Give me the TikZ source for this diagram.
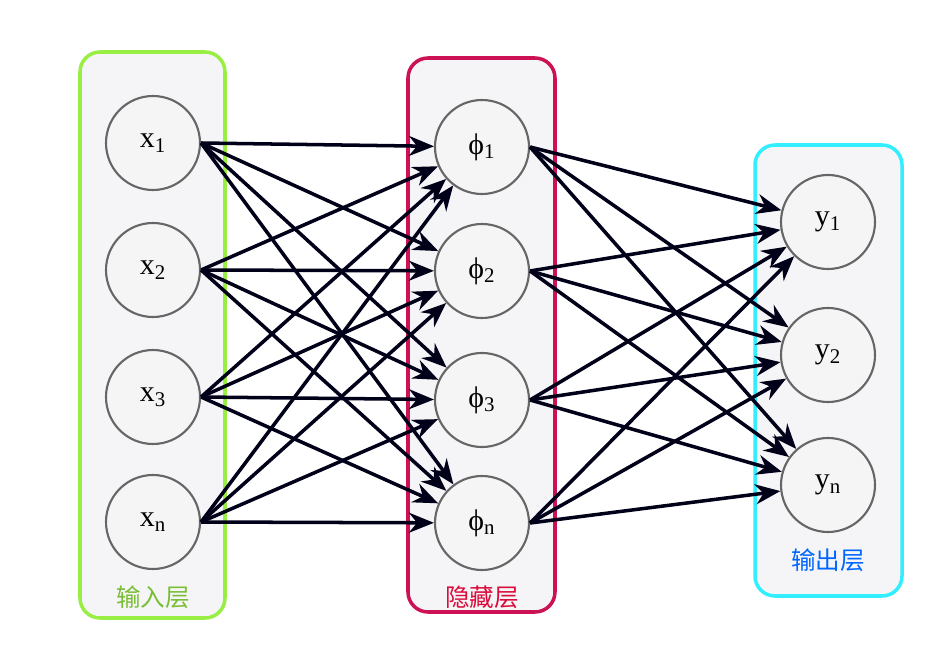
\documentclass[tikz,border=0pt]{standalone}
\usepackage{fontspec}
\setmainfont{Liberation Serif}
\newfontfamily\cjk{Noto Sans CJK SC}
\usepackage{xcolor}
\usetikzlibrary{arrows.meta,positioning}
\definecolor{boxfill}{HTML}{F5F5F7}
\definecolor{greenbd}{HTML}{99EE44}
\definecolor{redbd}{HTML}{CC1155}
\definecolor{cyanbd}{HTML}{33EEFF}
\begin{document}
\begin{tikzpicture}[
    unit/.style={circle, draw=gray!80!black, line width=1.2pt, fill=gray!8, minimum size=1.88cm, inner sep=0pt, font=\fontsize{17}{20}\selectfont},
    layerbox/.style={rectangle, rounded corners=0.4cm, line width=2pt, fill=boxfill},
    title/.style={font=\cjk\fontsize{14}{16}\selectfont},
    arrow/.style={-{Stealth[length=0.5cm,width=0.4cm]}, line width=2pt, black!90!blue},
]
    \useasboundingbox (0,0) rectangle (18.76,-13.08);
    % Layer boxes
    \draw[layerbox, draw=greenbd] (1.6,-1.04) rectangle (4.5,-12.36);
    \draw[layerbox, draw=redbd] (8.16,-1.16) rectangle (11.1,-12.24);
    \draw[layerbox, draw=cyanbd] (15.1,-2.9) rectangle (18.04,-11.92);

    % Input layer
    \node[unit] (x1) at (3.06,-2.86) {x$_{\mathrm{1}}$};
    \node[unit] (x2) at (3.06,-5.4) {x$_{\mathrm{2}}$};
    \node[unit] (x3) at (3.06,-7.94) {x$_{\mathrm{3}}$};
    \node[unit] (x4) at (3.06,-10.44) {x$_{\mathrm{n}}$};

    % Hidden layer
    \node[unit] (h1) at (9.64,-2.94) {ϕ$_{\mathrm{1}}$};
    \node[unit] (h2) at (9.64,-5.42) {ϕ$_{\mathrm{2}}$};
    \node[unit] (h3) at (9.64,-8.0) {ϕ$_{\mathrm{3}}$};
    \node[unit] (h4) at (9.64,-10.46) {ϕ$_{\mathrm{n}}$};

    % Output layer
    \node[unit] (y1) at (16.56,-4.44) {y$_{\mathrm{1}}$};
    \node[unit] (y2) at (16.56,-7.1) {y$_{\mathrm{2}}$};
    \node[unit] (y3) at (16.56,-9.7) {y$_{\mathrm{n}}$};

    % Titles
    \node[title, text=greenbd!80!black] (tin) at (3.06,-11.94) {输入层};
    \node[title, text=redbd!70!red] (thid) at (9.64,-11.94) {隐藏层};
    \node[title, text=blue!60!cyan] (tout) at (16.56,-11.2) {输出层};

    % Connections
    \foreach \i in {1,...,4}
        \foreach \j in {1,...,4}
            \draw[arrow] (x\i.east) -- (h\j);
    \foreach \i in {1,...,4}
        \foreach \j in {1,...,3}
            \draw[arrow] (h\i.east) -- (y\j);
\end{tikzpicture}
\end{document}
